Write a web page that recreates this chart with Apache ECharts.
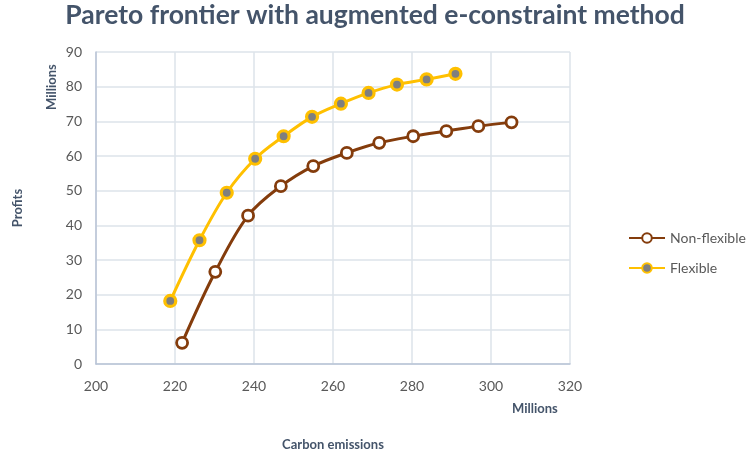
<!DOCTYPE html>
<html>
<head>
<meta charset="utf-8">
<script src="https://cdn.jsdelivr.net/npm/echarts@6/dist/echarts.min.js"></script>
<style>
  html, body { margin: 0; padding: 0; background: #fff; }
  #chart { width: 750px; height: 456px; }
</style>
</head>
<body>
<div id="chart"></div>
<script>
// Carbon emissions (millions) and profits (millions) along each Pareto frontier
const nonFlexEmissions = [221.8, 230.2, 238.5, 246.8, 255.0, 263.5, 271.7, 280.3, 288.7, 296.8, 305.2];
const nonFlexProfits   = [6.1, 26.6, 42.8, 51.3, 57.1, 60.9, 63.8, 65.7, 67.2, 68.6, 69.7];
const flexEmissions    = [218.8, 226.2, 233.1, 240.3, 247.5, 254.7, 262.0, 269.0, 276.2, 283.7, 291.0];
const flexProfits      = [18.2, 35.7, 49.4, 59.2, 65.7, 71.3, 75.1, 78.2, 80.6, 82.1, 83.7];
const seriesNames = ['Non-flexible', 'Flexible'];

const pair = (xs, ys) => xs.map((x, i) => [x, ys[i]]);

const FONT = 'Lato, "Open Sans", sans-serif';
const TEXT_DARK = '#44546A';
const TEXT_GRAY = '#595959';
const GRID_COLOR = '#DDE3EA';
const AXIS_COLOR = '#B8C3D6';

const chart = echarts.init(document.getElementById('chart'), null, { renderer: 'canvas' });

chart.setOption({
  animation: false,
  backgroundColor: '#ffffff',
  textStyle: { fontFamily: FONT },
  title: {
    text: 'Pareto frontier with augmented e-constraint method',
    left: 'center',
    top: -3,
    textStyle: { fontFamily: FONT, fontSize: 26.5, fontWeight: 'bold', color: TEXT_DARK }
  },
  grid: { left: 96, right: 180, top: 52, bottom: 92, containLabel: false, outerBoundsMode: 'none' },
  legend: {
    orient: 'vertical',
    left: 623,
    top: 226,
    itemWidth: 36,
    itemHeight: 12,
    itemGap: 16,
    textStyle: { fontFamily: FONT, fontSize: 14, color: TEXT_GRAY },
    data: seriesNames
  },
  xAxis: {
    type: 'value',
    min: 200, max: 320, interval: 20,
    name: 'Carbon emissions',
    nameLocation: 'middle',
    nameGap: 74,
    nameTextStyle: { fontFamily: FONT, fontSize: 13, fontWeight: 'bold', color: TEXT_DARK },
    axisLine: { show: true, lineStyle: { color: AXIS_COLOR, width: 1.5 } },
    axisTick: { show: false },
    axisLabel: { fontFamily: FONT, fontSize: 14, color: TEXT_GRAY, margin: 15 },
    splitLine: { show: true, lineStyle: { color: GRID_COLOR, width: 1.5 } }
  },
  yAxis: {
    type: 'value',
    min: 0, max: 90, interval: 10,
    name: 'Profits',
    nameLocation: 'middle',
    nameGap: 72,
    nameRotate: 90,
    nameTextStyle: { fontFamily: FONT, fontSize: 13, fontWeight: 'bold', color: TEXT_DARK },
    axisLine: { show: true, lineStyle: { color: AXIS_COLOR, width: 1.5 } },
    axisTick: { show: false },
    axisLabel: { fontFamily: FONT, fontSize: 14, color: TEXT_GRAY, margin: 14 },
    splitLine: { show: true, lineStyle: { color: GRID_COLOR, width: 1.5 } }
  },
  graphic: [
    {
      type: 'text',
      left: 512, top: 402,
      style: { text: 'Millions', font: 'bold 13px ' + FONT, fill: TEXT_DARK }
    },
    {
      type: 'text',
      x: 45, y: 110,
      rotation: Math.PI / 2,
      style: { text: 'Millions', font: 'bold 13px ' + FONT, fill: TEXT_DARK }
    }
  ],
  series: [
    {
      name: seriesNames[0],
      type: 'line',
      smooth: 0.35,
      data: pair(nonFlexEmissions, nonFlexProfits),
      symbol: 'circle',
      symbolSize: 11,
      lineStyle: { color: '#843C0C', width: 3 },
      itemStyle: { color: '#ffffff', borderColor: '#843C0C', borderWidth: 2.8 },
      z: 3
    },
    {
      name: seriesNames[1],
      type: 'line',
      smooth: 0.35,
      data: pair(flexEmissions, flexProfits),
      symbol: 'circle',
      symbolSize: 11,
      lineStyle: { color: '#FFC000', width: 3 },
      itemStyle: { color: '#7F7F7F', borderColor: '#FFC000', borderWidth: 3.2 },
      z: 4
    }
  ]
});
</script>
</body>
</html>
